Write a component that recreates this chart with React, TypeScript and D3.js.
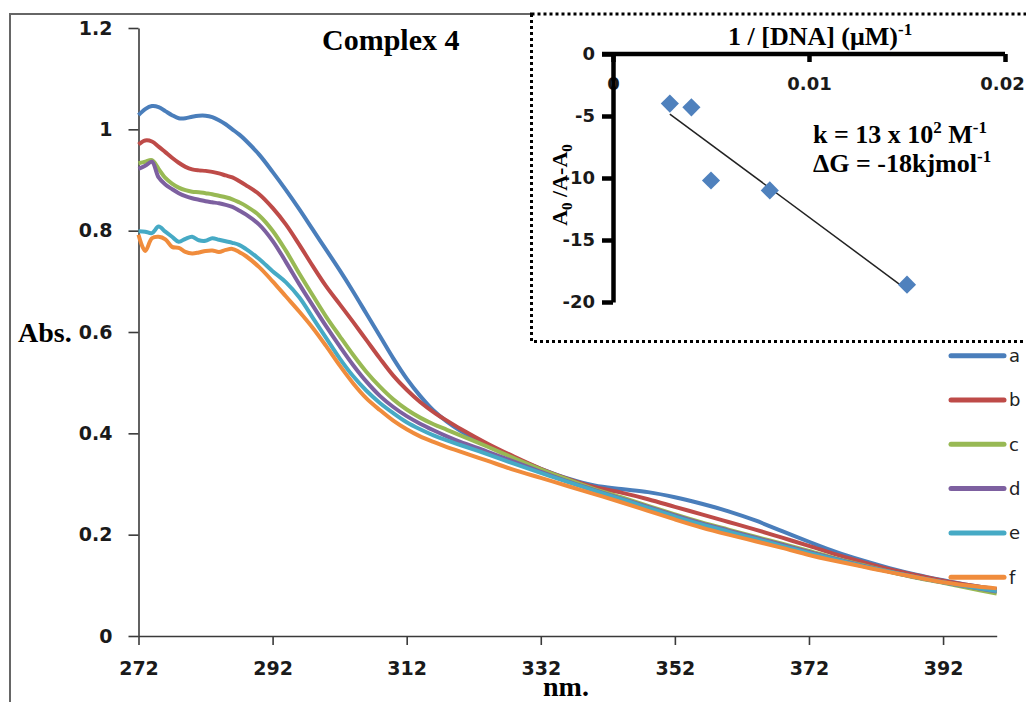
import React, { useEffect, useRef } from "react"
import * as d3 from "d3"

// wavelength grid (nm) shared by all spectra
const wavelengths = [
  272, 273, 274, 275, 276, 277, 278, 279, 280, 281, 282, 283, 284, 285, 286, 287, 288,
  290, 292, 294, 296, 298, 300, 302, 304, 306, 308, 310, 312, 314, 316, 318, 320,
  324, 328, 332, 336, 340, 344, 348, 352, 356, 360, 364, 368, 372, 376, 380, 384, 388, 392, 396, 400,
]

const absA = [
  1.028, 1.040, 1.046, 1.044, 1.036, 1.028, 1.022, 1.022, 1.025, 1.027, 1.027, 1.024, 1.018, 1.010, 1.000, 0.990, 0.978,
  0.950, 0.916, 0.880, 0.842, 0.802, 0.762, 0.722, 0.680, 0.636, 0.592, 0.548, 0.508, 0.474, 0.445, 0.423, 0.405,
  0.377, 0.352, 0.330, 0.311, 0.297, 0.290, 0.284, 0.274, 0.261, 0.246, 0.228, 0.207, 0.186, 0.166, 0.149, 0.134, 0.121, 0.110, 0.100, 0.092,
]
const absB = [
  0.970, 0.978, 0.976, 0.966, 0.955, 0.944, 0.934, 0.926, 0.921, 0.919, 0.918, 0.916, 0.913, 0.909, 0.905, 0.898, 0.890,
  0.872, 0.845, 0.812, 0.772, 0.730, 0.690, 0.655, 0.620, 0.584, 0.548, 0.514, 0.486, 0.462, 0.442, 0.425, 0.409,
  0.380, 0.354, 0.330, 0.310, 0.294, 0.283, 0.270, 0.255, 0.240, 0.225, 0.210, 0.194, 0.178, 0.161, 0.146, 0.132, 0.120, 0.109, 0.100, 0.092,
]
const absC = [
  0.933, 0.936, 0.939, 0.922, 0.904, 0.893, 0.885, 0.880, 0.877, 0.876, 0.874, 0.872, 0.869, 0.866, 0.862, 0.856, 0.849,
  0.830, 0.800, 0.760, 0.715, 0.672, 0.630, 0.592, 0.555, 0.521, 0.492, 0.467, 0.447, 0.431, 0.418, 0.407, 0.396,
  0.374, 0.351, 0.329, 0.309, 0.290, 0.274, 0.257, 0.240, 0.224, 0.210, 0.196, 0.182, 0.168, 0.153, 0.140, 0.127, 0.115, 0.105, 0.094, 0.084,
]
const absD = [
  0.922, 0.928, 0.936, 0.905, 0.891, 0.882, 0.874, 0.868, 0.864, 0.861, 0.858, 0.856, 0.854, 0.851, 0.847, 0.840, 0.832,
  0.812, 0.780, 0.738, 0.694, 0.652, 0.611, 0.572, 0.535, 0.502, 0.474, 0.452, 0.434, 0.419, 0.406, 0.394, 0.383,
  0.364, 0.344, 0.324, 0.305, 0.288, 0.271, 0.255, 0.238, 0.222, 0.208, 0.194, 0.180, 0.166, 0.152, 0.139, 0.127, 0.116, 0.106, 0.097, 0.088,
]
const absE = [
  0.799, 0.798, 0.795, 0.808, 0.798, 0.788, 0.778, 0.784, 0.788, 0.781, 0.780, 0.785, 0.782, 0.779, 0.776, 0.772, 0.764,
  0.744, 0.720, 0.698, 0.668, 0.628, 0.588, 0.548, 0.513, 0.484, 0.460, 0.440, 0.422, 0.408, 0.396, 0.386, 0.377,
  0.359, 0.340, 0.322, 0.304, 0.287, 0.270, 0.253, 0.236, 0.220, 0.206, 0.192, 0.178, 0.164, 0.151, 0.138, 0.127, 0.116, 0.106, 0.097, 0.089,
]
const absF = [
  0.792, 0.760, 0.785, 0.788, 0.783, 0.768, 0.766, 0.758, 0.755, 0.757, 0.760, 0.761, 0.758, 0.762, 0.764, 0.758, 0.750,
  0.728, 0.700, 0.670, 0.640, 0.608, 0.572, 0.534, 0.499, 0.469, 0.446, 0.425, 0.408, 0.394, 0.383, 0.373, 0.364,
  0.346, 0.328, 0.312, 0.296, 0.280, 0.264, 0.247, 0.230, 0.214, 0.200, 0.187, 0.174, 0.160, 0.148, 0.137, 0.126, 0.116, 0.106, 0.099, 0.094,
]

const seriesNames = ["a", "b", "c", "d", "e", "f"]
const seriesValues = [absA, absB, absC, absD, absE, absF]
const seriesColors = ["#4A7EBB", "#BE4B48", "#98B954", "#7D60A0", "#46AAC5", "#F08C3C"]

const xTicks = [272, 292, 312, 332, 352, 372, 392]
const yTicks = [0, 0.2, 0.4, 0.6, 0.8, 1, 1.2]

// inset: Benesi-Hildebrand type plot
const invDna = [0.0029, 0.0040, 0.0050, 0.0080, 0.0150]
const ratioVals = [-4.0, -4.3, -10.2, -11.0, -18.6]
const insetXTicks = [0, 0.01, 0.02]
const insetYTicks = [0, -5, -10, -15, -20]

const serif = "'Liberation Serif', 'Times New Roman', serif"
const sans = "'DejaVu Sans', Verdana, sans-serif"

function App() {
  const ref = useRef<SVGGElement>(null)

  useEffect(() => {
    const root = d3.select(ref.current)
    root.selectAll("*").remove()

    const x = d3.scaleLinear().domain([272, 400]).range([138.5, 996.7])
    const y = d3.scaleLinear().domain([0, 1.2]).range([636, 28])

    // outer chart border
    root.append("path")
      .attr("d", "M10,702V14H532")
      .attr("fill", "none")
      .attr("stroke", "#666")
      .attr("stroke-width", 2)

    const xAxisG = root.append("g")
      .attr("transform", `translate(0,${y(0)})`)
      .call(d3.axisBottom(x).tickValues(xTicks).tickSize(9).tickSizeOuter(0).tickPadding(17).tickFormat(d3.format("d")))
    const yAxisG = root.append("g")
      .attr("transform", `translate(${x(272)},0)`)
      .call(d3.axisLeft(y).tickValues(yTicks).tickSize(10).tickSizeOuter(0).tickPadding(16).tickFormat((d) => String(d)))

    for (const g of [xAxisG, yAxisG]) {
      g.selectAll("path, line").attr("stroke", "#3a3a3a").attr("stroke-width", 1.6)
      g.selectAll("text")
        .attr("fill", "#1a1a1a")
        .style("font-family", sans)
        .style("font-weight", "bold")
        .style("font-size", "19px")
    }

    const line = d3.line<number>()
      .x((_, i) => x(wavelengths[i]))
      .y((d) => y(d))
      .curve(d3.curveCatmullRom.alpha(0.5))

    root.append("g")
      .selectAll("path")
      .data(seriesValues)
      .join("path")
      .attr("d", (d) => line(d))
      .attr("fill", "none")
      .attr("stroke", (_, i) => seriesColors[i])
      .attr("stroke-width", 4)
      .attr("stroke-linejoin", "round")

    // legend
    const legend = root.append("g")
    seriesNames.forEach((name, i) => {
      const ly = 355.7 + i * 44.3
      legend.append("line")
        .attr("x1", 951).attr("x2", 1004)
        .attr("y1", ly).attr("y2", ly)
        .attr("stroke", seriesColors[i])
        .attr("stroke-width", 5)
        .attr("stroke-linecap", "round")
      legend.append("text")
        .attr("x", 1009).attr("y", ly)
        .attr("dy", "0.35em")
        .attr("fill", "#222")
        .style("font-family", sans)
        .style("font-size", "18px")
        .text(name)
    })

    // ---- inset ----
    const inset = root.append("g")
    inset.append("rect")
      .attr("x", 531.5).attr("y", 14)
      .attr("width", 520).attr("height", 327.5)
      .attr("fill", "white")
      .attr("stroke", "#000")
      .attr("stroke-width", 3)
      .attr("stroke-dasharray", "3 3")

    const ix = d3.scaleLinear().domain([0, 0.02]).range([613, 1005])
    const iy = d3.scaleLinear().domain([-20, 0]).range([302, 54])

    const ixAxis = inset.append("g")
      .attr("transform", `translate(0,${iy(0)})`)
      .call(d3.axisBottom(ix).tickValues(insetXTicks).tickSize(8).tickSizeOuter(0).tickPadding(15)
        .tickFormat((d) => (d === 0 ? "0" : (d as number).toFixed(2))))
    const iyAxis = inset.append("g")
      .attr("transform", `translate(${ix(0)},0)`)
      .call(d3.axisLeft(iy).tickValues(insetYTicks).tickSize(11).tickSizeOuter(0).tickPadding(7)
        .tickFormat((d) => String(d)))

    for (const g of [ixAxis, iyAxis]) {
      g.selectAll("path, line").attr("stroke", "#000").attr("stroke-width", 4.5)
      g.selectAll("text")
        .attr("fill", "#1a1a1a")
        .style("font-family", sans)
        .style("font-weight", "bold")
        .style("font-size", "18px")
    }
    ixAxis.select("path.domain").attr("d", `M${ix(0) - 11},0H${ix(0.02)}`)
    // keep the last label inside the picture
    ixAxis.selectAll<SVGTextElement, number>("text").filter((d) => d === 0.02).attr("x", -3)

    // trendline from least squares fit
    const mx = d3.mean(invDna) as number
    const my = d3.mean(ratioVals) as number
    let sxy = 0
    let sxx = 0
    invDna.forEach((v, i) => {
      sxy += (v - mx) * (ratioVals[i] - my)
      sxx += (v - mx) * (v - mx)
    })
    const slope = sxy / sxx
    const icpt = my - slope * mx
    const [x0, x1] = d3.extent(invDna) as [number, number]
    inset.append("line")
      .attr("x1", ix(x0)).attr("y1", iy(icpt + slope * x0))
      .attr("x2", ix(x1)).attr("y2", iy(icpt + slope * x1))
      .attr("stroke", "#222")
      .attr("stroke-width", 1.5)

    const diamond = d3.symbol().type(d3.symbolSquare).size(165)
    inset.append("g")
      .selectAll("path")
      .data(invDna)
      .join("path")
      .attr("d", diamond)
      .attr("transform", (d, i) => `translate(${ix(d)},${iy(ratioVals[i])}) rotate(45)`)
      .attr("fill", "#4F81BD")
  }, [])

  return (
    <svg width={1026} height={702} style={{ position: "absolute", left: 0, top: 0, background: "white" }}>
      <g ref={ref}></g>
      <g fontFamily={serif} fontWeight="bold" fill="#000">
        <text x={322} y={50} fontSize={30}>Complex 4</text>
        <text x={18} y={342} fontSize={28}>Abs.</text>
        <text x={543} y={696} fontSize={28}>nm.</text>
        <text x={728} y={45} fontSize={26}>
          1 / [DNA] (μM)<tspan fontSize={17} dy={-10}>-1</tspan>
        </text>
        <text x={813} y={143} fontSize={26}>
          k = 13 x 10<tspan fontSize={17} dy={-10}>2</tspan>
          <tspan dy={10}> M</tspan>
          <tspan fontSize={17} dy={-10}>-1</tspan>
        </text>
        <text x={813} y={172} fontSize={26}>
          ΔG = -18kjmol<tspan fontSize={17} dy={-10}>-1</tspan>
        </text>
        <text transform="translate(567,185) rotate(-90)" textAnchor="middle" fontSize={22}>
          A<tspan fontSize={15} dy={5}>0</tspan>
          <tspan dy={-5}> /A-A</tspan>
          <tspan fontSize={15} dy={5}>0</tspan>
        </text>
      </g>
    </svg>
  )
}

export default App
